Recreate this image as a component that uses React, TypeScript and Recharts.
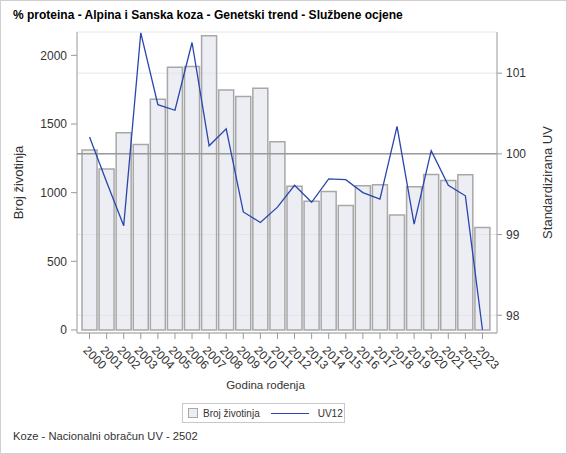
import React from 'react';
import {
  ComposedChart, Bar, Line, XAxis, YAxis, CartesianGrid, ReferenceLine, Legend,
} from 'recharts';

const years = [
  '2000', '2001', '2002', '2003', '2004', '2005', '2006', '2007', '2008', '2009', '2010', '2011',
  '2012', '2013', '2014', '2015', '2016', '2017', '2018', '2019', '2020', '2021', '2022', '2023',
];
const animalCounts = [
  1310, 1172, 1436, 1351, 1681, 1914, 1919, 2142, 1747, 1701, 1761, 1370,
  1046, 937, 1009, 907, 1050, 1058, 837, 1043, 1133, 1089, 1130, 747,
];
const uv12 = [
  100.21, 99.65, 99.11, 101.5, 100.61, 100.54, 101.38, 100.1, 100.31, 99.28, 99.15, 99.34,
  99.61, 99.4, 99.69, 99.68, 99.52, 99.44, 100.34, 99.13, 100.04, 99.61, 99.48, 97.82,
];
const countTicks = [0, 500, 1000, 1500, 2000];
const uvTicks = [98, 99, 100, 101];

const data = years.map((year, i) => ({ year, count: animalCounts[i], uv: uv12[i] }));

const FONT = 'Arial, "Liberation Sans", sans-serif';
const TEXT = '#333333';
const AXIS = '#9a9a9a';
const BLUE = '#2a46ad';

const YearTick = (props: any) => {
  const { x, y, payload } = props;
  const tx = x - 7;
  const ty = y + 10;
  return (
    <text x={tx} y={ty} transform={`rotate(45 ${tx} ${ty})`} textAnchor="start"
      fontSize={12} fontFamily={FONT} fill={TEXT}>
      {payload.value}
    </text>
  );
};

const sideTitle = (text: string, dx: number, angle: number) => (p: any) => {
  const vb = p.viewBox;
  const cx = vb.x + dx;
  const cy = vb.y + vb.height / 2;
  return (
    <text x={cx} y={cy} transform={`rotate(${angle} ${cx} ${cy})`} textAnchor="middle"
      dominantBaseline="central" fontSize={13} fontFamily={FONT} fill={TEXT}>
      {text}
    </text>
  );
};

const LegendBox = () => (
  <div style={{
    width: 163, height: 20, boxSizing: 'border-box', border: '1px solid #c8c8c8', whiteSpace: 'nowrap',
    display: 'flex', alignItems: 'center', fontFamily: FONT, fontSize: 10, color: TEXT,
  }}>
    <span style={{
      width: 8, height: 8, border: '1px solid #a8a8a8', background: '#eceef3', flexShrink: 0,
      marginLeft: 5, marginRight: 5,
    }} />
    <span>Broj životinja</span>
    <span style={{
      width: 38, height: 0, borderTop: `1.5px solid ${BLUE}`, flexShrink: 0, marginLeft: 11, marginRight: 9,
    }} />
    <span>UV12</span>
  </div>
);

const App: React.FC = () => {
  return (
    <div style={{ position: 'absolute', left: 0, top: 0, width: 567, height: 454, background: '#fff', fontFamily: FONT }}>
      <div style={{
        position: 'absolute', left: 13, top: 8, fontSize: 12, fontWeight: 'bold', color: '#000',
      }}>
        % proteina - Alpina i Sanska koza - Genetski trend - Službene ocjene
      </div>
      <ComposedChart width={567} height={454} data={data}
        margin={{ top: 32, right: 0, bottom: 76, left: 0 }}>
        <CartesianGrid yAxisId="uv" vertical={false} stroke="#e6e6e6" />
        <XAxis dataKey="year" interval={0} padding={{ left: 4, right: 6 }} height={45}
          tick={<YearTick />} tickSize={6} tickLine={{ stroke: AXIS }} axisLine={{ stroke: AXIS }} />
        <XAxis xAxisId="top" dataKey="year" orientation="top" height={0} tick={false}
          tickLine={false} axisLine={{ stroke: AXIS }} />
        <YAxis yAxisId="n" domain={[-22, 2170]} ticks={countTicks} width={77}
          allowDataOverflow tickSize={6} tickMargin={4}
          tick={{ fontSize: 12, fontFamily: FONT, fill: TEXT }}
          tickLine={{ stroke: AXIS }} axisLine={{ stroke: AXIS }}
          label={{ content: sideTitle('Broj životinja', 18, -90) }} />
        <YAxis yAxisId="uv" orientation="right" domain={[97.78, 101.51]} ticks={uvTicks} width={70}
          allowDataOverflow tickSize={5} tickMargin={4}
          tick={{ fontSize: 12, fontFamily: FONT, fill: TEXT }}
          tickLine={{ stroke: AXIS }} axisLine={{ stroke: AXIS }}
          label={{ content: sideTitle('Standardizirana UV', 50, -90) }} />
        <Bar yAxisId="n" dataKey="count" name="Broj životinja" barSize={15}
          fill="#dfe3ec" fillOpacity={0.6} stroke="#a8a8a8" strokeWidth={1.5}
          isAnimationActive={false} />
        <ReferenceLine yAxisId="uv" y={100} stroke="#9a9a9a" strokeWidth={1.5} />
        <Line yAxisId="uv" dataKey="uv" name="UV12" type="linear" stroke={BLUE} strokeWidth={1.3}
          dot={false} activeDot={false} isAnimationActive={false} />
        <Legend layout="horizontal" verticalAlign="middle" align="center"
          wrapperStyle={{ position: 'absolute', left: 182, top: 403, width: 163 }}
          content={() => <LegendBox />} />
      </ComposedChart>
      <div style={{ position: 'absolute', left: 0, width: 531, top: 379, textAlign: 'center', fontSize: 11.5, color: TEXT }}>
        Godina rođenja
      </div>
      <div style={{ position: 'absolute', left: 13, top: 430, fontSize: 11.2, color: TEXT }}>
        Koze - Nacionalni obračun UV - 2502
      </div>
      <div style={{
        position: 'absolute', left: 0, top: 0, width: 567, height: 454, boxSizing: 'border-box',
        border: '1px solid #d0d0d0', pointerEvents: 'none',
      }} />
    </div>
  );
};

export default App;
